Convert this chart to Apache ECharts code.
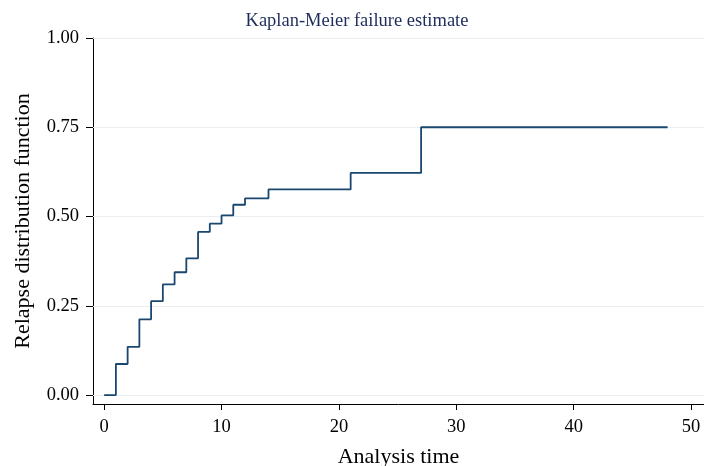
<!DOCTYPE html>
<html>
<head>
<meta charset="utf-8">
<script src="https://cdn.jsdelivr.net/npm/echarts@6/dist/echarts.min.js"></script>
<style>html,body{margin:0;padding:0;background:#fff}#c{width:704px;height:466px}</style>
</head>
<body>
<div id="c"></div>
<script>
// Data
var times = [0, 1, 2, 3, 4, 5, 6, 7, 8, 9, 10, 11, 12, 14, 21, 27, 48];
var failure = [0, 0.087, 0.135, 0.212, 0.263, 0.31, 0.344, 0.383, 0.457, 0.48, 0.503, 0.533, 0.551, 0.576, 0.622, 0.75, 0.75];
var xTicks = [0, 10, 20, 30, 40, 50];
var yTicks = [0, 0.25, 0.5, 0.75, 1];
var titleText = 'Kaplan-Meier failure estimate';
var xName = 'Analysis time';
var yName = 'Relapse distribution function';

var font = 'Liberation Serif, Times New Roman, serif';
var pts = times.map(function (t, i) { return [t, failure[i]]; });

var chart = echarts.init(document.getElementById('c'), null, {renderer: 'canvas'});
chart.setOption({
  animation: false,
  backgroundColor: '#fff',
  title: {
    text: titleText, left: 352, top: 7, textAlign: 'center',
    textStyle: {fontFamily: font, fontSize: 18.5, fontWeight: 'normal', color: '#1e2c5c'}
  },
  grid: {left: 93, right: 0, top: 38, bottom: 62, containLabel: false, outerBoundsMode: 'none'},
  xAxis: {
    type: 'value', min: -0.95, max: 51.1,
    name: xName, nameLocation: 'middle', nameGap: 42,
    nameTextStyle: {fontFamily: font, fontSize: 22, color: '#000'},
    axisLine: {show: true, onZero: false, lineStyle: {color: '#000', width: 1}},
    axisTick: {show: true, length: 6, customValues: xTicks, lineStyle: {color: '#000'}},
    axisLabel: {customValues: xTicks, fontFamily: font, fontSize: 18.5, color: '#000', margin: 14},
    splitLine: {show: false}
  },
  yAxis: {
    type: 'value', min: -0.025, max: 1,
    name: yName, nameLocation: 'middle', nameGap: 59, nameRotate: 90,
    nameTextStyle: {fontFamily: font, fontSize: 22, color: '#000'},
    axisLine: {show: true, onZero: false, lineStyle: {color: '#000', width: 1}},
    axisTick: {show: true, length: 7, customValues: yTicks, lineStyle: {color: '#000'}},
    axisLabel: {customValues: yTicks, fontFamily: font, fontSize: 18.5, color: '#000', margin: 14,
      formatter: function (v) { return v.toFixed(2); }},
    splitLine: {show: false}
  },
  series: [{
    type: 'line', data: [], z: 1, silent: true,
    markLine: {
      silent: true, symbol: 'none', label: {show: false}, z: 1,
      lineStyle: {color: '#eaeef1', width: 1.2, type: 'solid'},
      data: yTicks.map(function (v) { return {yAxis: v}; })
    }
  }, {
    type: 'line', step: 'end', data: pts, symbol: 'none',
    lineStyle: {color: '#1a476f', width: 1.8},
    z: 5
  }]
});
</script>
</body>
</html>
